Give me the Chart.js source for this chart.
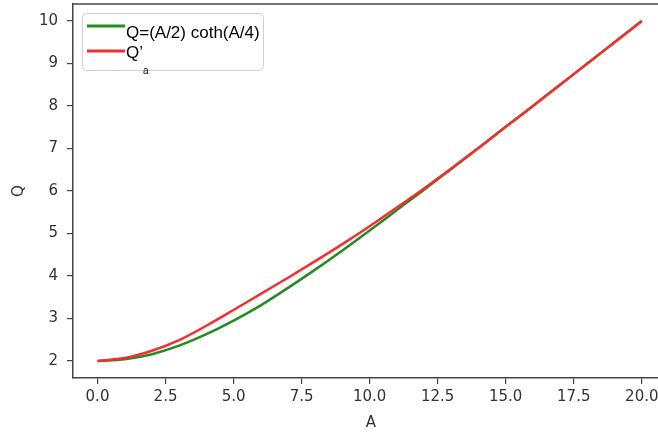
<!DOCTYPE html>
<html>
<head>
<meta charset="utf-8">
<script src="https://cdn.jsdelivr.net/npm/chart.js@4"></script>
<style>
  html, body { margin: 0; padding: 0; background: #fff; overflow: hidden; }
  #wrap { width: 658px; height: 434px; overflow: hidden; }
</style>
</head>
<body>
<div id="wrap"><canvas id="myChart" width="670" height="434"></canvas></div>
<script>
// Data
const aValues = [0, 1, 2, 3, 4, 5, 6, 7, 8, 9, 10, 11, 12, 13, 14, 15, 16, 17, 18, 19, 20];
const qExact  = [2.00, 2.04, 2.16, 2.36, 2.63, 2.95, 3.31, 3.72, 4.15, 4.60, 5.07, 5.55, 6.03, 6.52, 7.01, 7.51, 8.00, 8.50, 9.00, 9.50, 10.00];
const qApprox = [2.00, 2.07, 2.24, 2.49, 2.83, 3.20, 3.58, 3.96, 4.35, 4.75, 5.17, 5.61, 6.06, 6.53, 7.01, 7.51, 8.00, 8.50, 9.00, 9.50, 10.00];
const seriesLabels = ['Q=(A/2) coth(A/4)', 'Q’ₐ'];
const xTicks = [0, 2.5, 5, 7.5, 10, 12.5, 15, 17.5, 20];
const yTicks = [2, 3, 4, 5, 6, 7, 8, 9, 10];

const tickFont = { family: 'DejaVu Sans', size: 15 };
const axisColor = '#444';

function points(ys) {
    return aValues.map((a, i) => ({ x: a, y: ys[i] }));
}

// top frame line + legend box drawn by hand (matplotlib look)
const framePlugin = {
    id: 'frame',
    afterDraw(chart) {
        const { ctx, chartArea } = chart;
        ctx.save();
        ctx.strokeStyle = axisColor;
        ctx.lineWidth = 1.5;
        ctx.beginPath();
        ctx.moveTo(chartArea.left, chartArea.top);
        ctx.lineTo(chartArea.right, chartArea.top);
        ctx.stroke();

        // legend
        const bx = 82, by = 13, bw = 181, bh = 57;
        ctx.fillStyle = 'rgba(255,255,255,0.8)';
        ctx.strokeStyle = '#d0d0d0';
        ctx.lineWidth = 1;
        ctx.beginPath();
        ctx.roundRect(bx + 0.5, by + 0.5, bw, bh, 4);
        ctx.fill();
        ctx.stroke();

        const rows = [26, 51];
        const order = [1, 0]; // green first in legend
        ctx.textBaseline = 'alphabetic';
        order.forEach((di, r) => {
            const ds = chart.data.datasets[di];
            const y = rows[r];
            ctx.strokeStyle = ds.borderColor;
            ctx.lineWidth = 3;
            ctx.beginPath();
            ctx.moveTo(87, y);
            ctx.lineTo(125, y);
            ctx.stroke();
            ctx.fillStyle = '#000';
            const label = ds.label;
            if (label.endsWith('ₐ')) {
                const main = label.slice(0, -1);
                ctx.font = '17px "Liberation Sans", Arial, sans-serif';
                ctx.fillText(main, 126, y + 7);
                const w = ctx.measureText(main).width;
                ctx.font = '10px "Liberation Sans", Arial, sans-serif';
                ctx.fillText('a', 126 + w, y + 23);
            } else {
                ctx.font = '17px "Liberation Sans", Arial, sans-serif';
                ctx.fillText(label, 126, y + 12);
            }
        });
        ctx.restore();
    }
};

const ctx = document.getElementById('myChart').getContext('2d');
const myChart = new Chart(ctx, {
    type: 'scatter',
    data: {
        datasets: [{
            label: seriesLabels[1],
            data: points(qApprox),
            borderColor: 'rgb(245, 45, 45)',
            backgroundColor: 'rgb(245, 45, 45)',
            order: 1
        }, {
            label: seriesLabels[0],
            data: points(qExact),
            borderColor: 'rgb(34, 139, 34)',
            backgroundColor: 'rgb(34, 139, 34)',
            order: 2
        }]
    },
    options: {
        responsive: false,
        animation: false,
        devicePixelRatio: 1,
        layout: { padding: { top: 4, right: 1, left: 0, bottom: 0 } },
        elements: {
            line: { borderWidth: 2.5, cubicInterpolationMode: 'monotone', fill: false },
            point: { radius: 0, hoverRadius: 0 }
        },
        datasets: { scatter: { showLine: true } },
        plugins: {
            legend: { display: false },
            tooltip: { enabled: false }
        },
        scales: {
            x: {
                type: 'linear',
                min: -0.9,
                max: 21,
                afterBuildTicks: s => { s.ticks = xTicks.map(v => ({ value: v })); },
                afterFit: s => { s.height = 56; s.paddingLeft = 0; s.paddingRight = 0; },
                ticks: {
                    callback: v => v.toFixed(1),
                    font: tickFont,
                    color: '#333',
                    padding: 4,
                    maxRotation: 0
                },
                grid: { display: true, drawOnChartArea: false, drawTicks: true, tickLength: 6, color: axisColor, lineWidth: 1.2 },
                border: { display: true, color: axisColor, width: 1.5 },
                title: { display: true, text: 'A', font: tickFont, color: '#333', padding: { top: 0, bottom: 2 } }
            },
            y: {
                type: 'linear',
                min: 1.6,
                max: 10.4,
                afterBuildTicks: s => { s.ticks = yTicks.map(v => ({ value: v })); },
                afterFit: s => { s.width = 73; s.paddingTop = 0; s.paddingBottom = 0; },
                ticks: {
                    callback: v => String(v),
                    font: tickFont,
                    color: '#333',
                    padding: 9
                },
                grid: { display: true, drawOnChartArea: false, drawTicks: true, tickLength: 6, color: axisColor, lineWidth: 1.2 },
                border: { display: true, color: axisColor, width: 1.5 },
                title: { display: true, text: 'Q', font: tickFont, color: '#333', padding: { top: 10, bottom: 0 } }
            }
        }
    },
    plugins: [framePlugin]
});
</script>
</body>
</html>
